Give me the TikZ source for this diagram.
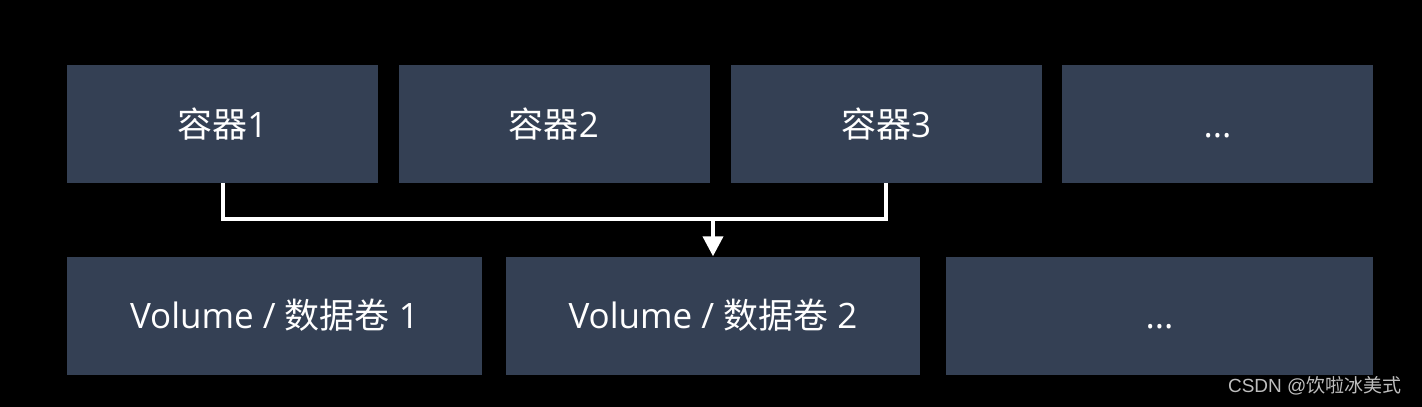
\documentclass[tikz,border=0pt]{standalone}
\usepackage{fontspec}
\setmainfont{Open Sans}
\newfontfamily\cjk{Noto Sans CJK SC}
\newfontfamily\wmfont{Liberation Sans}
\usetikzlibrary{positioning,arrows.meta,calc}
\definecolor{boxfill}{RGB}{52,64,84}
\definecolor{wmgray}{RGB}{190,190,190}
\newcommand\moreitems{...}
\tikzset{
  cbox/.style={fill=boxfill,inner sep=0pt,text=white,font=\fontsize{35}{40}\selectfont,
    minimum height=118pt,text height=32pt,text depth=6pt},
  link/.style={draw=white,line width=4pt}
}

\begin{document}
\begin{tikzpicture}[x=1pt,y=-1pt]
  \fill[black] (0,0) rectangle (1422,407);
  \useasboundingbox (0,0) rectangle (1422,407);
  % top row: containers
  \foreach \n/\x/\t in {c1/222.5/{\cjk 容器}1, c2/554/{\cjk 容器}2, c3/886/{\cjk 容器}3, c4/1217.5/\moreitems}{
    \node[cbox,minimum width=311pt] (\n) at (\x,124) {\t};
  }
  % bottom row: volumes
  \foreach \n/\x/\w/\t in {v1/274.5/415/{Volume / {\cjk 数据卷} 1}, v2/713/414/{Volume / {\cjk 数据卷} 2}, v3/1159.5/427/\moreitems}{
    \node[cbox,minimum width=\w pt] (\n) at (\x,315.5) {\t};
  }
  \coordinate (j) at (v2.north |- 0,219);
  \draw[link] (c1.south) |- (j) -| (c3.south);
  \draw[link,-{Triangle[width=20pt,length=20pt]}] (j) -- (v2.north);
  \node[text=wmgray,font=\wmfont\fontsize{19}{22}\selectfont,anchor=east] (wm) at (1405,386)
    {CSDN @{\cjk 饮啦冰美式}};
\end{tikzpicture}
\end{document}
